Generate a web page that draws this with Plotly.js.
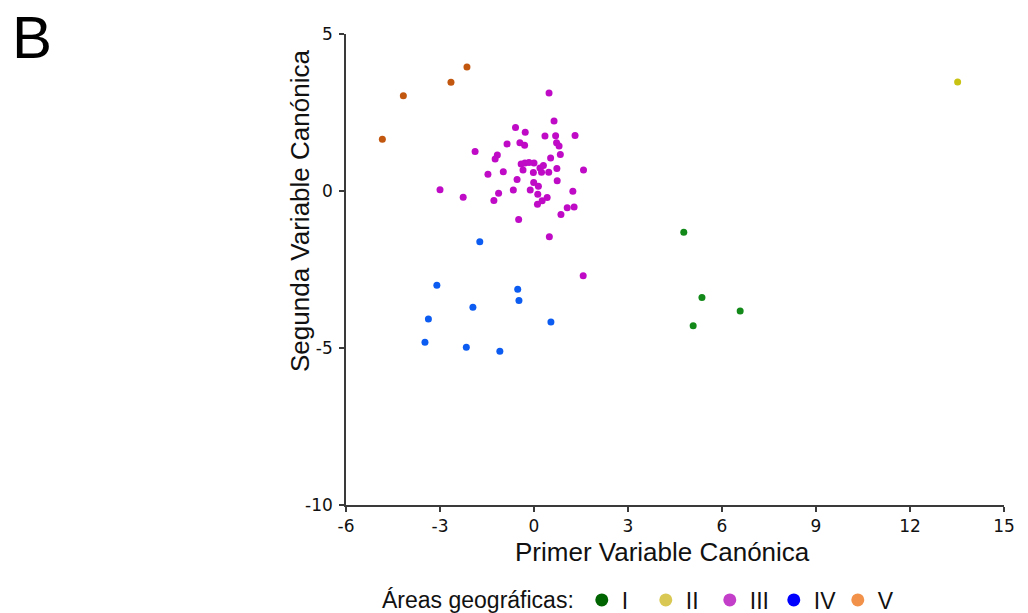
<!DOCTYPE html>
<html>
<head>
<meta charset="utf-8">
<script src="https://cdn.plot.ly/plotly-3.0.1.min.js"></script>
<style>html,body{margin:0;padding:0;background:#fff}#chart{width:1028px;height:613px}</style>
</head>
<body>
<div id="chart"></div>
<script>
// ---- data ----
const groupNames = ["I", "II", "III", "IV", "V"];

const x_I = [4.78, 5.36, 6.58, 5.08];
const y_I = [-1.31, -3.39, -3.82, -4.29];

const x_II = [13.52];
const y_II = [3.47];

const x_III = [0.48, 0.64, -0.59, -0.28, 0.35, 0.69, 1.31, -0.86, -0.45, -0.30,
  0.72, 0.80, -1.88, -1.17, -1.24, 0.84, 0.53, -0.41, -0.29, -0.16,
  0.00, -0.35, -0.02, 0.19, 0.30, 0.24, 0.47, 0.73, -0.98, -1.47,
  1.58, -0.54, -0.01, 0.14, 0.74, -0.66, -0.12, 0.12, 1.24, -3.00,
  -2.26, -1.13, -1.28, 0.42, 0.26, 0.11, 0.86, 1.06, 1.28, -0.49,
  0.49, 1.57];
const y_III = [3.12, 2.23, 2.02, 1.87, 1.75, 1.76, 1.77, 1.50, 1.54, 1.46,
  1.54, 1.43, 1.26, 1.15, 1.02, 1.16, 1.05, 0.86, 0.89, 0.91,
  0.89, 0.67, 0.59, 0.73, 0.81, 0.60, 0.60, 0.72, 0.61, 0.53,
  0.67, 0.37, 0.27, 0.15, 0.33, 0.03, 0.03, -0.10, -0.01, 0.04,
  -0.20, -0.07, -0.30, -0.21, -0.31, -0.42, -0.75, -0.53, -0.51, -0.91,
  -1.46, -2.70];

const x_IV = [-1.73, -3.10, -0.52, -0.48, -1.95, -3.37, 0.54, -3.48, -2.16, -1.09];
const y_IV = [-1.62, -3.00, -3.13, -3.49, -3.70, -4.08, -4.17, -4.82, -4.98, -5.10];

const x_V = [-4.84, -4.17, -2.65, -2.14];
const y_V = [1.65, 3.03, 3.46, 3.95];

const xTicks = [-6, -3, 0, 3, 6, 9, 12, 15];
const yTicks = [-10, -5, 0, 5];

const xTitle = "Primer Variable Canónica";
const yTitle = "Segunda Variable Canónica";
const legendTitle = "Áreas geográficas:";
const panelLabel = "B";

// ---- styles ----
const pointColors = ["#13891a", "#c8c312", "#bf0ac6", "#0d5cf2", "#c2570f"];
const legendColors = ["#006400", "#d9c954", "#c33ec9", "#0000ff", "#f2914a"];

const xs = [x_I, x_II, x_III, x_IV, x_V];
const ys = [y_I, y_II, y_III, y_IV, y_V];

const traces = [];
for (let i = 0; i < groupNames.length; i++) {
  traces.push({
    type: "scatter", mode: "markers", x: xs[i], y: ys[i],
    name: groupNames[i], showlegend: false, hoverinfo: "x+y+name",
    marker: { color: pointColors[i], size: 7, line: { width: 0 } }
  });
}
for (let i = 0; i < groupNames.length; i++) {
  traces.push({
    type: "scatter", mode: "markers", x: [null], y: [null],
    name: groupNames[i], showlegend: true,
    marker: { color: legendColors[i], size: 13, line: { width: 0 } }
  });
}

// plot area in px: left 346, right 1004, top 34, bottom 505
const L = 346, R = 1004, T = 34, B = 505;
const px = v => (v - L) / (R - L);
const py = v => (B - v) / (B - T);

const axisCommon = {
  showline: true, linecolor: "#3a3a3a", linewidth: 1.6,
  ticks: "outside", ticklen: 5, tickwidth: 1.6, tickcolor: "#3a3a3a",
  showgrid: false, zeroline: false, fixedrange: true,
  tickfont: { family: "DejaVu Sans", size: 17, color: "#111" }
};
const fmt = v => String(v);

const layout = {
  width: 1028, height: 613,
  paper_bgcolor: "#fff", plot_bgcolor: "#fff",
  margin: { l: L, r: 1028 - R, t: T, b: 613 - B, autoexpand: false },
  xaxis: Object.assign({}, axisCommon, { range: [-6, 15], tickvals: xTicks, ticktext: xTicks.map(fmt) }),
  yaxis: Object.assign({}, axisCommon, { range: [-10, 5], tickvals: yTicks, ticktext: yTicks.map(fmt), ticklabelstandoff: 3 }),
  showlegend: true,
  legend: {
    orientation: "h", x: px(380), xanchor: "left", y: py(600), yanchor: "middle",
    font: { family: "Liberation Sans, Arial", size: 23, color: "#111" },
    title: { text: legendTitle, side: "left", font: { family: "Liberation Sans, Arial", size: 23, color: "#111" } },
    itemwidth: 30, entrywidth: 19, entrywidthmode: "pixels", tracegroupgap: 0,
    bgcolor: "rgba(0,0,0,0)", borderwidth: 0
  },
  annotations: [
    { text: panelLabel, xref: "paper", yref: "paper", x: px(10), y: py(37), xanchor: "left", yanchor: "middle",
      showarrow: false, font: { family: "Liberation Sans, Arial", size: 60, color: "#000" } },
    { text: xTitle, xref: "paper", yref: "paper", x: px(662), y: py(552), xanchor: "center", yanchor: "middle",
      showarrow: false, font: { family: "Liberation Sans, Arial", size: 26, color: "#111" } },
    { text: yTitle, xref: "paper", yref: "paper", x: px(300), y: py(211), xanchor: "center", yanchor: "middle",
      textangle: -90, showarrow: false, font: { family: "Liberation Sans, Arial", size: 26, color: "#111" } }
  ]
};

Plotly.newPlot("chart", traces, layout, { displayModeBar: false, responsive: false });
</script>
</body>
</html>
